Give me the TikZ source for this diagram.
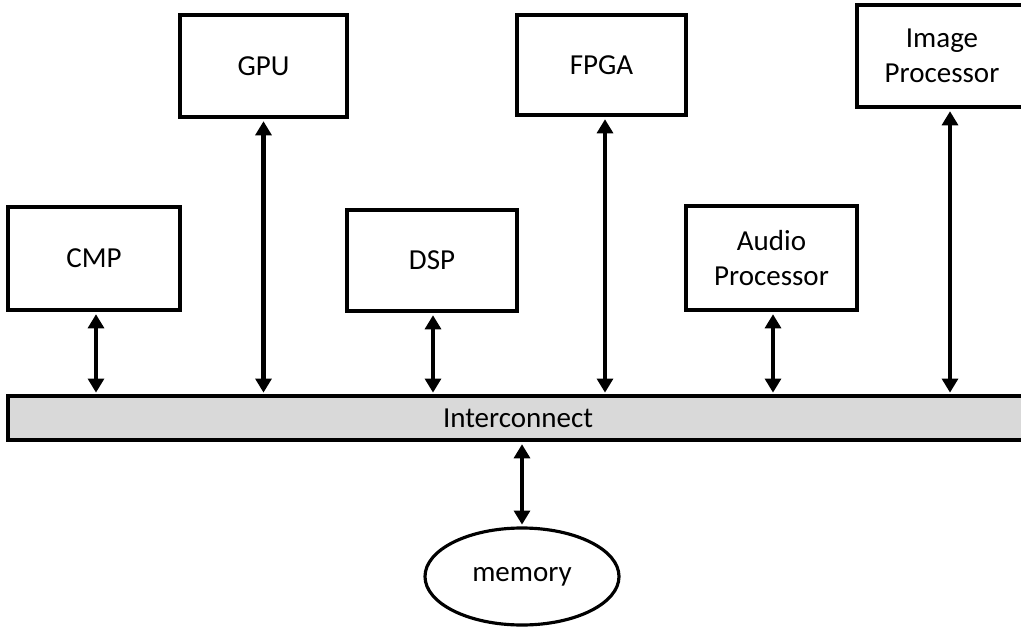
\documentclass[tikz,border=0pt]{standalone}
\usepackage{fontspec}
\setmainfont{Carlito}
\usetikzlibrary{arrows.meta,shapes.geometric}

\begin{document}
\begin{tikzpicture}
	\tikzset{unit/.style={draw,line width=1.8pt,align=center,inner sep=2pt,
		font=\fontsize{16.5}{20}\selectfont}}
	\tikzset{link/.style={line width=2.5pt,{Triangle[width=9pt,length=8pt]}-{Triangle[width=9pt,length=8pt]},
		shorten <=1.5pt,shorten >=1pt}}
	\useasboundingbox (0,0) rectangle (20.42,-12.54);
	\clip (0,0) rectangle (20.42,-12.54);

	%% processing units
	\node[unit,minimum width=3.44cm,minimum height=2.06cm] (cmp) at (1.88,-5.17) {CMP};
	\node[unit,minimum width=3.34cm,minimum height=2.04cm] (gpu) at (5.27,-1.32) {GPU};
	\node[unit,minimum width=3.40cm,minimum height=2.02cm] (dsp) at (8.64,-5.21) {DSP};
	\node[unit,minimum width=3.38cm,minimum height=2.00cm] (fpga) at (12.03,-1.30) {FPGA};
	\node[unit,minimum width=3.42cm,minimum height=2.08cm] (audio) at (15.43,-5.16) {Audio\\Processor};
	\node[unit,minimum width=3.40cm,minimum height=2.04cm] (image) at (18.84,-1.12) {Image\\Processor};

	%% bus and memory
	\node[unit,fill=black!15,minimum width=20.4cm,minimum height=0.88cm] (ic) at (10.36,-8.36) {Interconnect};
	\node[unit,ellipse,minimum width=3.88cm,minimum height=1.94cm] (mem) at (10.44,-11.53) {memory};

	\path[link]
		([xshift=0.04cm]cmp.south) edge ([xshift=0.04cm]cmp.south |- ic.north)
		(gpu.south) edge (gpu.south |- ic.north)
		([xshift=0.02cm]dsp.south) edge ([xshift=0.02cm]dsp.south |- ic.north)
		([xshift=0.07cm]fpga.south) edge ([xshift=0.07cm]fpga.south |- ic.north)
		([xshift=0.03cm]audio.south) edge ([xshift=0.03cm]audio.south |- ic.north)
		([xshift=0.16cm]image.south) edge ([xshift=0.16cm]image.south |- ic.north)
		(mem.north |- ic.south) edge (mem.north);
\end{tikzpicture}
\end{document}
